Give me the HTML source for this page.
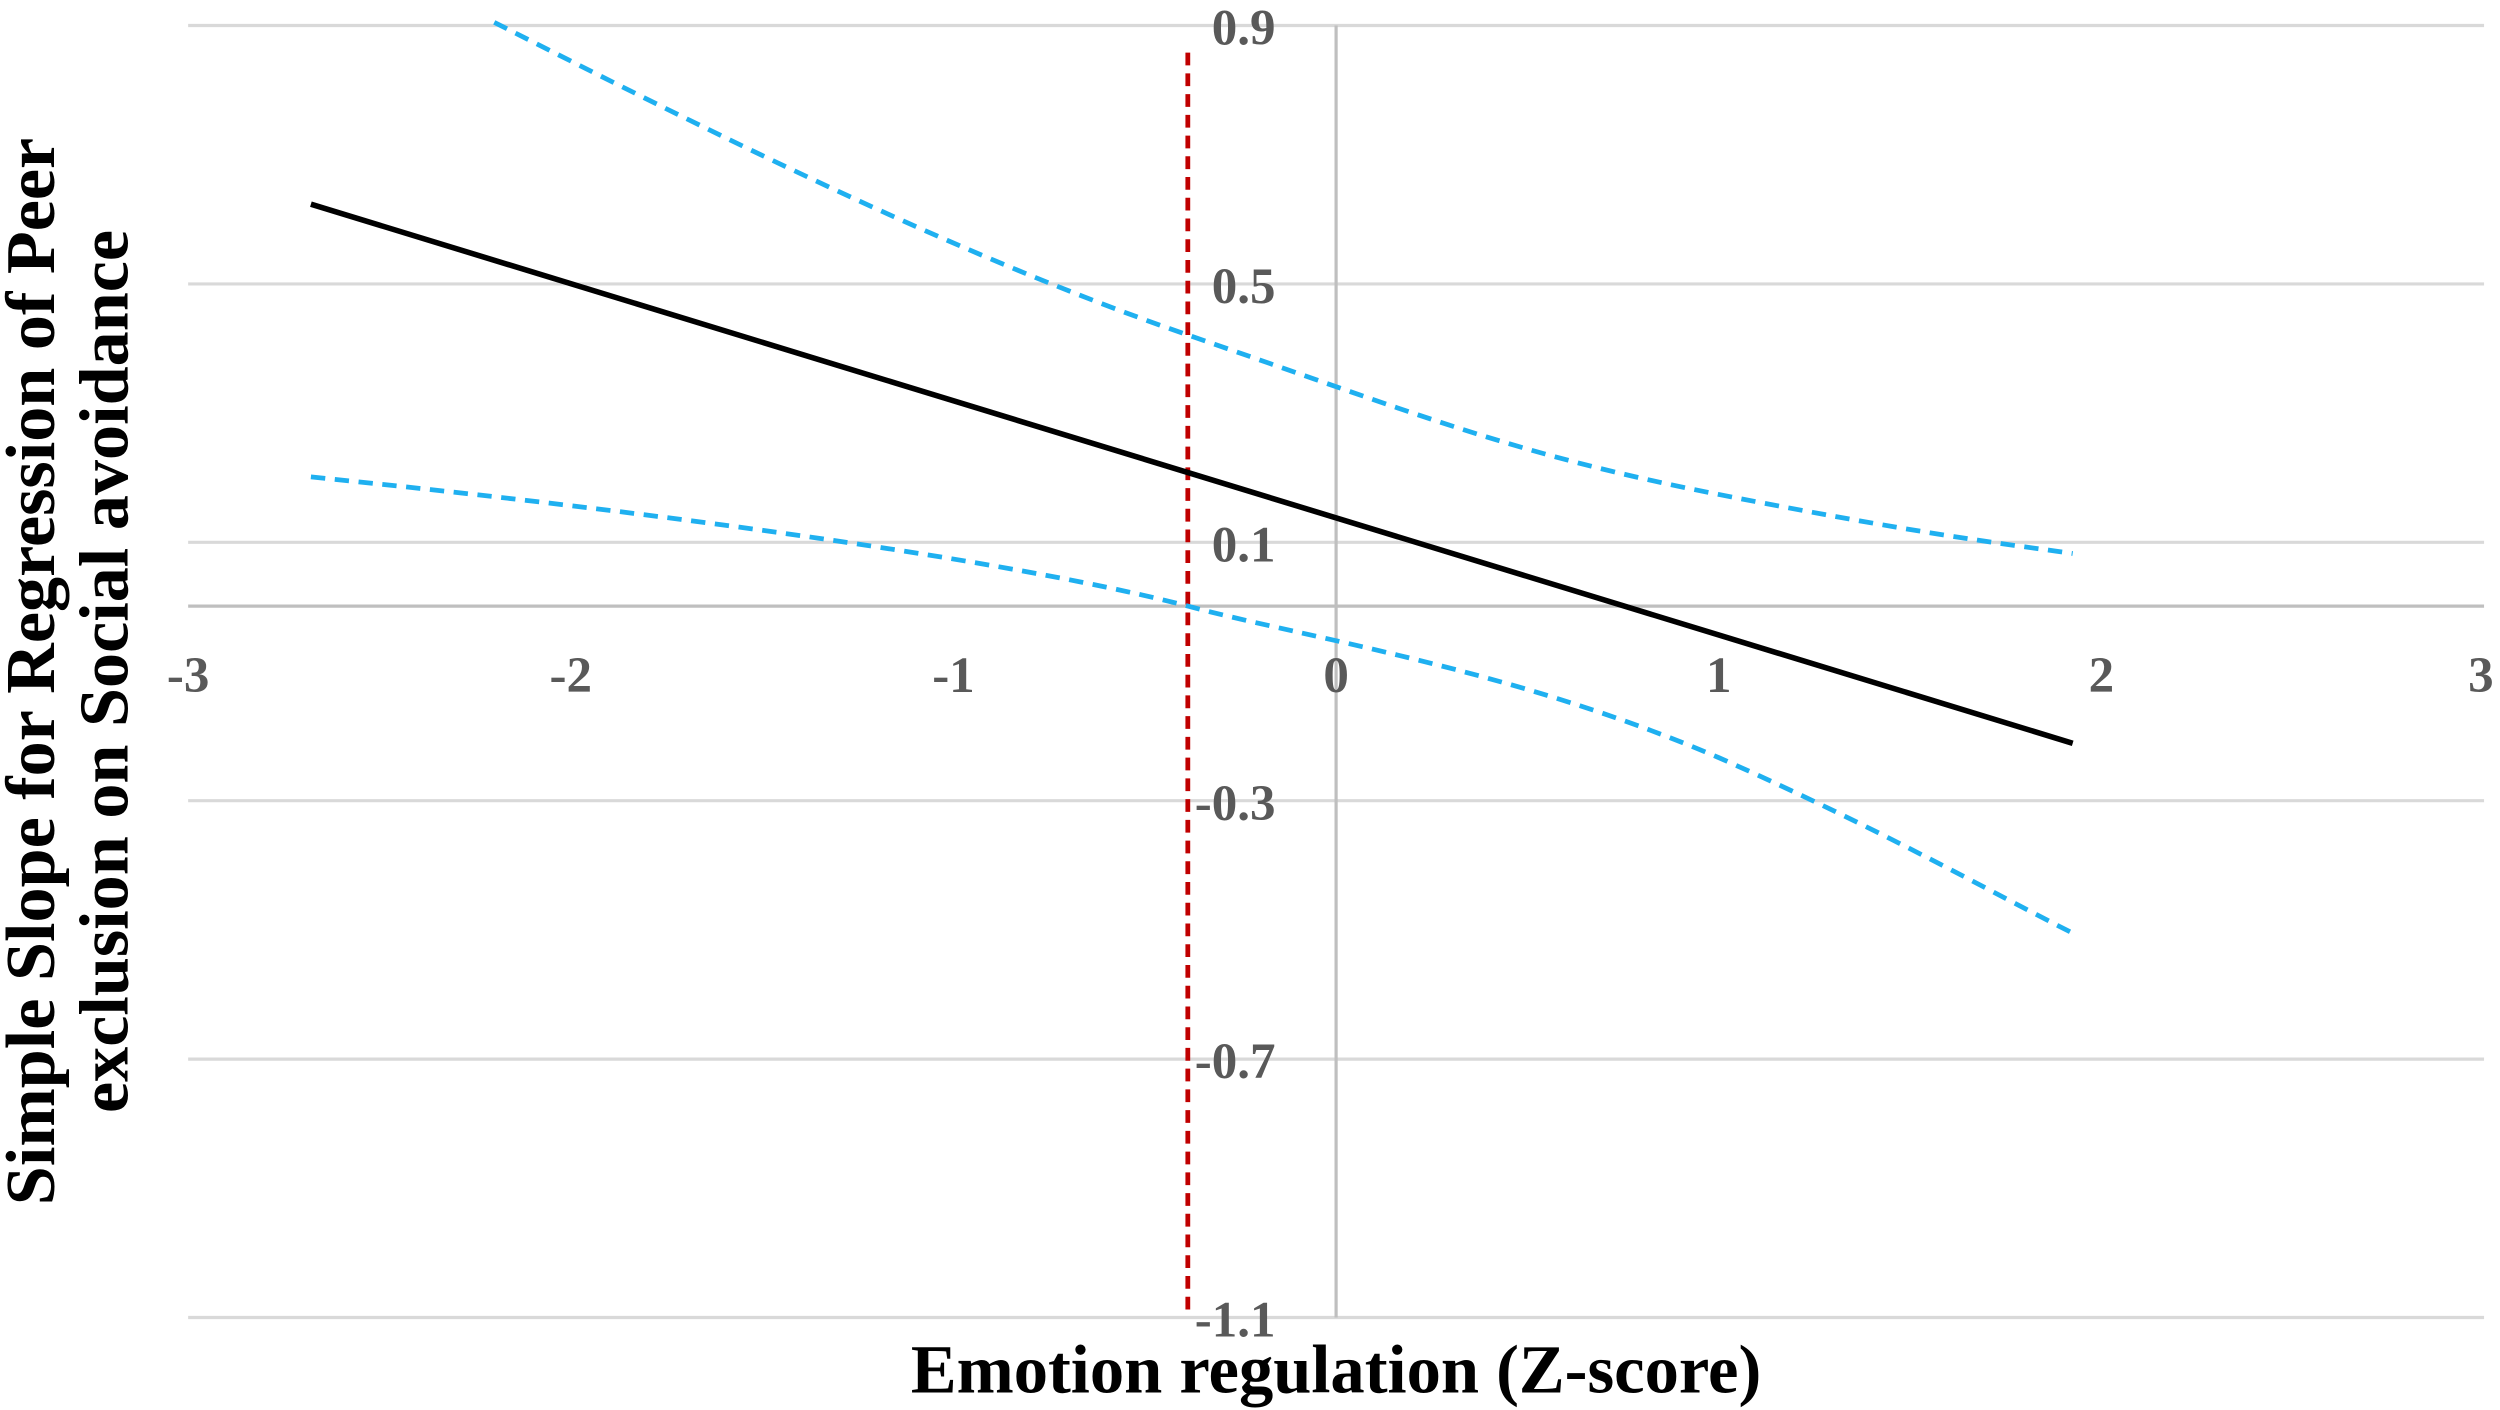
<!DOCTYPE html>
<html><head><meta charset="utf-8"><style>
html,body{margin:0;padding:0;background:#fff;}
svg{display:block;}
</style></head><body>
<svg width="2500" height="1410" viewBox="0 0 1568 884" preserveAspectRatio="none" xmlns="http://www.w3.org/2000/svg">
<rect width="1568" height="884" fill="#fff"/>
<g stroke="#d9d9d9" stroke-width="2">
<line x1="118" y1="16" x2="1558" y2="16"/>
<line x1="118" y1="178" x2="1558" y2="178"/>
<line x1="118" y1="340" x2="1558" y2="340"/>
<line x1="118" y1="502" x2="1558" y2="502"/>
<line x1="118" y1="664" x2="1558" y2="664"/>
<line x1="118" y1="826" x2="1558" y2="826"/>
</g>
<line x1="118" y1="380" x2="1558" y2="380" stroke="#bfbfbf" stroke-width="2"/>
<line x1="838" y1="16" x2="838" y2="826" stroke="#bfbfbf" stroke-width="2"/>
<line x1="745" y1="33" x2="745" y2="826" stroke="#c00000" stroke-width="3" stroke-dasharray="8,5"/>
<g font-family="Liberation Serif, serif" font-weight="bold" font-size="32" fill="#595959" text-anchor="end">
<text x="800" y="28">0.9</text>
<text x="800" y="190">0.5</text>
<text x="800" y="352">0.1</text>
<text x="800" y="514">-0.3</text>
<text x="800" y="676">-0.7</text>
<text x="800" y="838">-1.1</text>
</g>
<g font-family="Liberation Serif, serif" font-weight="bold" font-size="32" fill="#595959" text-anchor="middle">
<text x="118" y="434">-3</text>
<text x="358" y="434">-2</text>
<text x="598" y="434">-1</text>
<text x="838" y="434">0</text>
<text x="1078" y="434">1</text>
<text x="1318" y="434">2</text>
<text x="1556" y="434">3</text>
</g>
<path d="M310,14 C450,85 600,160 745,210 S950,285 1078,310 S1250,340 1300,347" fill="none" stroke="#1fb0f0" stroke-width="3" stroke-dasharray="9,6"/>
<path d="M195,299 C450,325 650,355 745,380 C820,400 950,420 1078,475 C1180,520 1250,560 1300,585" fill="none" stroke="#1fb0f0" stroke-width="3" stroke-dasharray="9,6"/>
<line x1="195" y1="128" x2="1300" y2="466" stroke="#000" stroke-width="3.5"/>
<g font-family="Liberation Serif, serif" font-weight="bold" font-size="44" fill="#000" text-anchor="middle">
<text transform="translate(34,421) rotate(-90)">Simple Slope for Regression of  Peer</text>
<text transform="translate(80,421) rotate(-90)">exclusion on Social avoidance</text>
<text x="838" y="873" font-size="43">Emotion regulation (Z-score)</text>
</g>
</svg>
</body></html>
